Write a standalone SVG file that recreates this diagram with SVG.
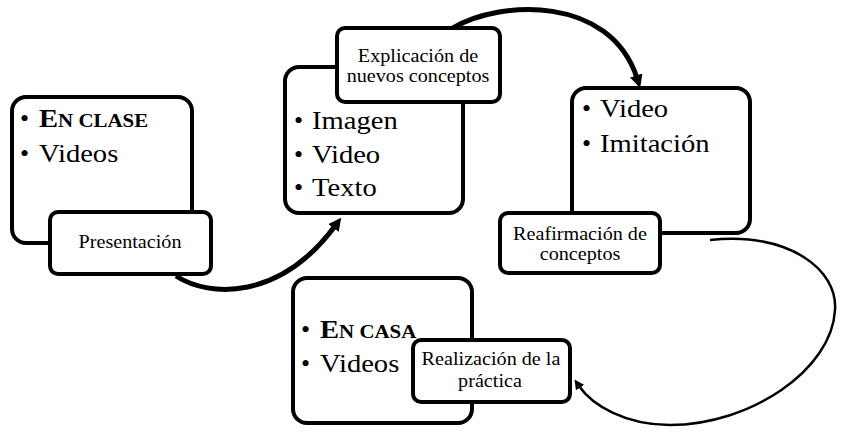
<svg xmlns="http://www.w3.org/2000/svg" width="843" height="437" viewBox="0 0 843 437" font-family="'Liberation Serif', 'Times New Roman', serif">
<style>
.box{fill:#fff;stroke:#000;stroke-width:4}
.bt{font-family:'Liberation Serif','Times New Roman',serif;font-size:26px;fill:#000}
.lt{font-family:'Liberation Serif','Times New Roman',serif;font-size:18px;fill:#000;text-anchor:middle}
.conn{fill:none;stroke:#000}
</style>
<defs>
<marker id="ah" viewBox="0 0 10 10" refX="2" refY="5" markerWidth="13" markerHeight="13" markerUnits="userSpaceOnUse" orient="auto">
<path d="M0,0 L10,5 L0,10 z" fill="#000"/>
</marker>
<marker id="ahs" viewBox="0 0 10 10" refX="2" refY="5" markerWidth="10" markerHeight="10" markerUnits="userSpaceOnUse" orient="auto">
<path d="M0,0 L10,5 L0,10 z" fill="#000"/>
</marker>
</defs>
<g id="connectors">
<path class="conn" stroke-width="5" d="M176 276 C210 298 280 300 335 226" marker-end="url(#ah)"/>
<path class="conn" stroke-width="5" d="M453 28 C500 0 610 -5 637 78" marker-end="url(#ah)"/>
<path class="conn" stroke-width="2.5" d="M710 240 C790 232 838 270 835 310 C832 370 750 425 670 425 C625 425 592 405 579 386" marker-end="url(#ahs)"/>
</g>
<g id="node-clase">
<rect class="box" x="12" y="97" width="180" height="146" rx="14"/>
<text class="bt" x="20" y="127">•</text>
<text class="bt" font-weight="bold" transform="translate(39 127) scale(1.1 1)"><tspan>E</tspan><tspan font-size="19">N CLASE</tspan></text>
<text class="bt" x="20" y="162">•</text>
<text class="bt" transform="translate(39 162) scale(1.1 1)">Videos</text>
</g>
<g id="node-presentacion">
<rect class="box" x="50" y="212" width="161" height="62" rx="8"/>
<text class="lt" transform="translate(130 248) scale(1.12 1)">Presentación</text>
</g>
<g id="node-medios">
<rect class="box" x="285" y="67" width="178" height="146" rx="14"/>
<text class="bt" x="294" y="129">•</text>
<text class="bt" transform="translate(312 129) scale(1.1 1)">Imagen</text>
<text class="bt" x="294" y="163">•</text>
<text class="bt" transform="translate(312 163) scale(1.1 1)">Video</text>
<text class="bt" x="294" y="196">•</text>
<text class="bt" transform="translate(312 196) scale(1.1 1)">Texto</text>
</g>
<g id="node-explicacion">
<rect class="box" x="337" y="28" width="163" height="74" rx="8"/>
<text class="lt" transform="translate(418 62) scale(1.12 1)">Explicación de</text>
<text class="lt" transform="translate(418 82) scale(1.12 1)">nuevos conceptos</text>
</g>
<g id="node-imitacion">
<rect class="box" x="572" y="88" width="178" height="145" rx="14"/>
<text class="bt" x="582" y="117">•</text>
<text class="bt" transform="translate(600 117) scale(1.1 1)">Video</text>
<text class="bt" x="582" y="152">•</text>
<text class="bt" transform="translate(600 152) scale(1.1 1)">Imitación</text>
</g>
<g id="node-reafirmacion">
<rect class="box" x="500" y="213" width="160" height="60" rx="8"/>
<text class="lt" transform="translate(580 240) scale(1.12 1)">Reafirmación de</text>
<text class="lt" transform="translate(580 260) scale(1.12 1)">conceptos</text>
</g>
<g id="node-casa">
<rect class="box" x="293" y="278" width="179" height="145" rx="14"/>
<text class="bt" x="301" y="338">•</text>
<text class="bt" font-weight="bold" transform="translate(320 338) scale(1.1 1)"><tspan>E</tspan><tspan font-size="19">N CASA</tspan></text>
<text class="bt" x="301" y="372">•</text>
<text class="bt" transform="translate(320 372) scale(1.1 1)">Videos</text>
</g>
<g id="node-realizacion">
<rect class="box" x="413" y="340" width="157" height="62" rx="8"/>
<text class="lt" transform="translate(491 365) scale(1.12 1)">Realización de la</text>
<text class="lt" transform="translate(490 387) scale(1.12 1)">práctica</text>
</g>
</svg>
